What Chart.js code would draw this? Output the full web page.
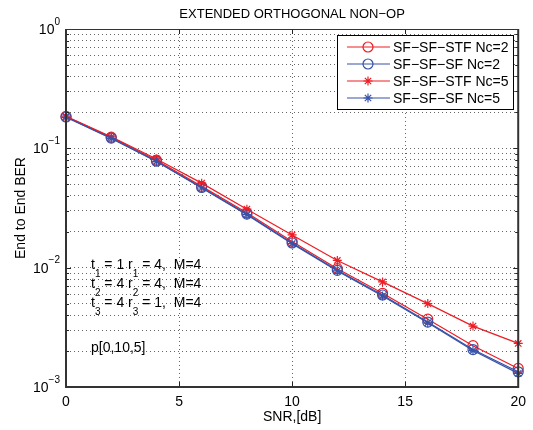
<!DOCTYPE html>
<html>
<head>
<meta charset="utf-8">
<script src="https://cdn.jsdelivr.net/npm/chart.js@4"></script>
<style>
  html, body { margin: 0; padding: 0; background: #fff; }
  #wrap { width: 533px; height: 430px; }
</style>
</head>
<body>
<div id="wrap"><canvas id="berChart" width="533" height="430"></canvas></div>
<script>
// SNR points in dB
const snr = [0, 2, 4, 6, 8, 10, 12, 14, 16, 18, 20];

// End to end BER
const berStfNc2 = [0.185, 0.124, 0.0795, 0.0480, 0.0288, 0.0166, 0.0098, 0.0061, 0.0037, 0.00222, 0.00143];
const berSfNc2  = [0.183, 0.122, 0.0780, 0.0470, 0.0281, 0.0161, 0.0095, 0.0059, 0.0035, 0.00206, 0.00134];
const berStfNc5 = [0.186, 0.125, 0.0815, 0.0511, 0.0309, 0.0188, 0.0115, 0.0076, 0.0050, 0.00324, 0.00232];
const berSfNc5  = [0.182, 0.121, 0.0775, 0.0465, 0.0278, 0.0159, 0.0094, 0.0058, 0.00345, 0.00202, 0.00130];

const seriesLabels = ['SF-SF-STF Nc=2', 'SF-SF-SF Nc=2', 'SF-SF-STF Nc=5', 'SF-SF-SF Nc=5'];

// tick labels
const xTicks = [0, 5, 10, 15, 20];
const yDecades = [-3, -2, -1, 0];

const titleText = 'EXTENDED ORTHOGONAL NON-OP';
const xTitle = 'SNR,[dB]';
const yTitle = 'End to End BER';

const RED = '#ee1c24';
const BLUE = '#3752a8';
const FONT = '"Liberation Sans", Arial, Helvetica, sans-serif';

// log ticks: 1..9 x 10^d plus the top decade
const yTicks = [];
yDecades.forEach(d => {
    if (d === yDecades[yDecades.length - 1]) {
        yTicks.push(Math.pow(10, d));
        return;
    }
    for (let m = 1; m <= 9; m++) {
        yTicks.push(Number((m * Math.pow(10, d)).toPrecision(3)));
    }
});

function isDecade(v) {
    const l = Math.log10(v);
    return Math.abs(l - Math.round(l)) < 1e-9;
}

// matlab prints the hyphens as long dashes
function dashes(s) {
    return s.replace(/-/g, '\u2212');
}

function makeSet(label, values, color, style, radius, order) {
    return {
        label: label,
        data: snr.map((x, i) => ({ x: x, y: values[i] })),
        borderColor: color,
        backgroundColor: 'rgba(0,0,0,0)',
        borderWidth: 1.2,
        pointStyle: style,
        pointRadius: radius,
        pointBorderColor: color,
        pointBackgroundColor: 'rgba(0,0,0,0)',
        pointBorderWidth: 1.2,
        tension: 0,
        clip: false,
        order: order
    };
}

// box, inward ticks, y tick labels, legend, text notes, title
const matlabDecor = {
    id: 'matlabDecor',
    afterDraw(chart) {
        const ctx = chart.ctx;
        const a = chart.chartArea;
        const xs = chart.scales.x;
        const ys = chart.scales.y;
        ctx.save();

        // inward tick marks
        ctx.strokeStyle = '#222';
        ctx.lineWidth = 1;
        ys.ticks.forEach(t => {
            const y = Math.round(ys.getPixelForValue(t.value)) + 0.5;
            const len = isDecade(t.value) ? 5 : 3;
            ctx.beginPath();
            ctx.moveTo(a.left, y); ctx.lineTo(a.left + len, y);
            ctx.moveTo(a.right, y); ctx.lineTo(a.right - len, y);
            ctx.stroke();
        });
        xs.ticks.forEach(t => {
            const x = Math.round(xs.getPixelForValue(t.value)) + 0.5;
            ctx.beginPath();
            ctx.moveTo(x, a.bottom); ctx.lineTo(x, a.bottom - 5);
            ctx.moveTo(x, a.top); ctx.lineTo(x, a.top + 5);
            ctx.stroke();
        });

        // axes box
        ctx.strokeStyle = '#333';
        ctx.lineWidth = 1;
        ctx.beginPath();
        ctx.moveTo(a.left, a.top + 0.5); ctx.lineTo(a.right, a.top + 0.5);
        ctx.stroke();
        ctx.lineWidth = 2;
        ctx.beginPath();
        ctx.moveTo(a.left, a.top); ctx.lineTo(a.left, a.bottom);
        ctx.lineTo(a.right, a.bottom); ctx.lineTo(a.right, a.top);
        ctx.stroke();

        // y tick labels 10^n
        ctx.fillStyle = '#000';
        ys.ticks.forEach(t => {
            if (!isDecade(t.value)) return;
            const y = ys.getPixelForValue(t.value);
            const exp = String(Math.round(Math.log10(t.value))).replace('-', '\u2212');
            ctx.font = '10px ' + FONT;
            const ew = ctx.measureText(exp).width;
            ctx.textAlign = 'left';
            ctx.textBaseline = 'middle';
            ctx.fillText(exp, 60 - ew, y - 7);
            ctx.font = '14px ' + FONT;
            ctx.textAlign = 'right';
            ctx.fillText('10', 60 - ew, y + 1);
        });

        // title over the axes
        ctx.font = '13px ' + FONT;
        ctx.textAlign = 'center';
        ctx.textBaseline = 'middle';
        ctx.fillText(dashes(titleText), (a.left + a.right) / 2, 14);

        // legend box
        const lx = 337, ly = 35, lw = 176, lh = 74;
        ctx.fillStyle = '#fff';
        ctx.fillRect(lx, ly, lw, lh);
        ctx.strokeStyle = '#000';
        ctx.lineWidth = 1;
        ctx.strokeRect(lx + 0.5, ly + 0.5, lw, lh);
        chart.data.datasets.forEach((ds, i) => {
            const y = ly + 12 + i * 17;
            ctx.strokeStyle = ds.borderColor;
            ctx.lineWidth = 1.2;
            ctx.beginPath();
            ctx.moveTo(lx + 10, y); ctx.lineTo(lx + 53, y);
            ctx.stroke();
            ctx.fillStyle = 'rgba(0,0,0,0)';
            Chart.helpers.drawPoint(ctx, {
                pointStyle: ds.pointStyle,
                radius: ds.pointRadius,
                borderWidth: 1.2,
                rotation: 0
            }, lx + 31, y);
            ctx.fillStyle = '#000';
            ctx.font = '14px ' + FONT;
            ctx.textAlign = 'left';
            ctx.textBaseline = 'middle';
            ctx.fillText(dashes(ds.label), lx + 56, y + 1);
        });

        // text notes with subscripts
        const notes = [['1', '1', '1', '4'], ['2', '4', '2', '4'], ['3', '4', '3', '1']];
        ctx.fillStyle = '#000';
        ctx.textAlign = 'left';
        ctx.textBaseline = 'middle';
        notes.forEach((n, i) => {
            const y = 265 + i * 19;
            let x = 91;
            const parts = [
                ['t', false], [n[0], true], [' = ' + n[1] + ' r', false],
                [n[2], true], [' = ' + n[3] + ',  M=4', false]
            ];
            parts.forEach(p => {
                ctx.font = (p[1] ? '10px ' : '14px ') + FONT;
                ctx.fillText(p[0], x, p[1] ? y + 9 : y);
                x += ctx.measureText(p[0]).width;
            });
        });
        ctx.font = '14px ' + FONT;
        ctx.fillText('p[0,10,5]', 91, 348);

        ctx.restore();
    }
};

const ctx = document.getElementById('berChart').getContext('2d');
const berChart = new Chart(ctx, {
    type: 'line',
    data: {
        datasets: [
            makeSet(seriesLabels[0], berStfNc2, RED, 'circle', 5, 3),
            makeSet(seriesLabels[1], berSfNc2, BLUE, 'circle', 5, 2),
            makeSet(seriesLabels[2], berStfNc5, RED, 'star', 4.5, 1),
            makeSet(seriesLabels[3], berSfNc5, BLUE, 'star', 4.5, 0)
        ]
    },
    options: {
        responsive: false,
        animation: false,
        devicePixelRatio: 1,
        layout: { padding: { left: 0, right: 12, top: 29, bottom: 0 } },
        plugins: {
            legend: { display: false },
            title: { display: false },
            tooltip: { enabled: false }
        },
        scales: {
            x: {
                type: 'linear',
                min: 0,
                max: 20,
                afterBuildTicks: scale => { scale.ticks = xTicks.map(v => ({ value: v })); },
                afterFit: scale => { scale.height = 43; },
                grid: { color: 'rgba(0,0,0,0.6)', drawTicks: false },
                border: { display: false, dash: [1, 3] },
                ticks: { padding: 7, color: '#000', font: { family: FONT, size: 14 } },
                title: {
                    display: true, text: xTitle, color: '#000',
                    font: { family: FONT, size: 14 }, padding: { top: 0, bottom: 4 }
                }
            },
            y: {
                type: 'logarithmic',
                min: 1e-3,
                max: 1,
                afterBuildTicks: scale => { scale.ticks = yTicks.map(v => ({ value: v, major: isDecade(v) })); },
                afterFit: scale => { scale.width = 66; },
                grid: { color: 'rgba(0,0,0,0.6)', drawTicks: false },
                border: { display: false, dash: [1, 3] },
                ticks: { display: false, autoSkip: false },
                title: {
                    display: true, text: yTitle, color: '#000',
                    font: { family: FONT, size: 14 }, padding: { top: 13, bottom: 0 }
                }
            }
        }
    },
    plugins: [matlabDecor]
});
</script>
</body>
</html>
